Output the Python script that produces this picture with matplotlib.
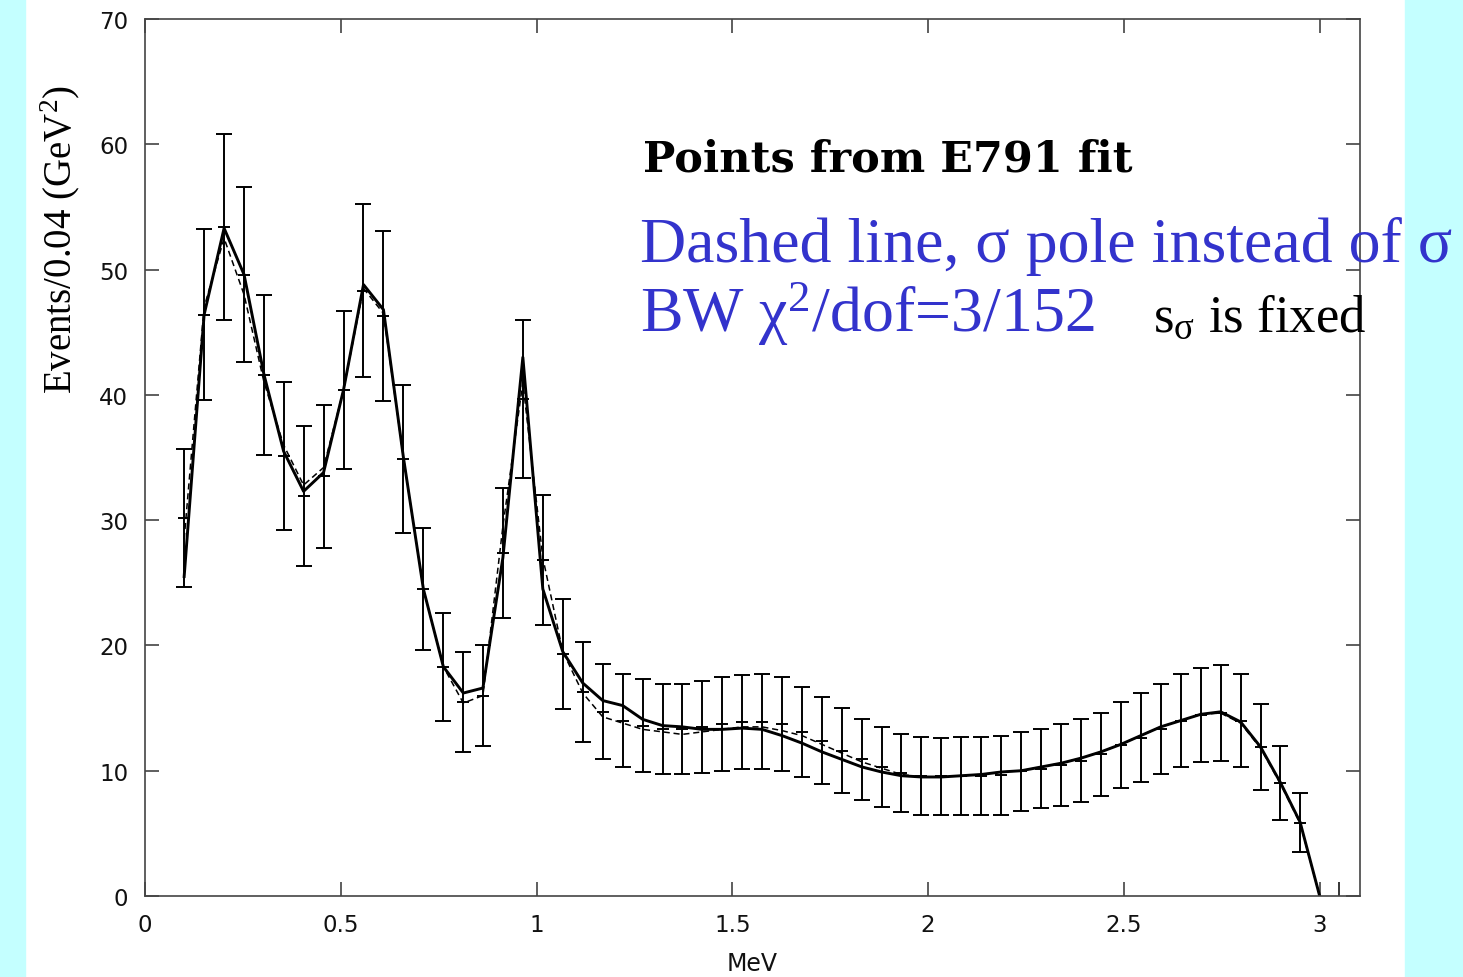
import matplotlib.pyplot as plt
from matplotlib.patches import Rectangle

plt.rcParams['mathtext.fontset'] = 'custom'
plt.rcParams['mathtext.rm'] = 'Liberation Serif'
plt.rcParams['mathtext.it'] = 'Liberation Serif:italic'

# bin centres (MeV axis as labelled)
x = [0.100, 0.151, 0.202, 0.253, 0.304, 0.354, 0.405, 0.456, 0.507, 0.558,
     0.609, 0.660, 0.711, 0.762, 0.813, 0.863, 0.914, 0.965, 1.016, 1.067,
     1.118, 1.169, 1.220, 1.271, 1.322, 1.372, 1.423, 1.474, 1.525, 1.576,
     1.627, 1.678, 1.729, 1.780, 1.831, 1.881, 1.932, 1.983, 2.034, 2.085,
     2.136, 2.187, 2.238, 2.289, 2.340, 2.390, 2.441, 2.492, 2.543, 2.594,
     2.645, 2.696, 2.747, 2.798, 2.849, 2.899, 2.950]

# points from E791 fit, with errors
pts = [30.2, 46.4, 53.4, 49.6, 41.6, 35.1, 31.9, 33.5, 40.4, 48.3,
       46.3, 34.9, 24.5, 18.3, 15.5, 16.0, 27.4, 39.7, 26.8, 19.3,
       16.3, 14.7, 14.0, 13.6, 13.3, 13.3, 13.5, 13.7, 13.9, 13.9,
       13.7, 13.1, 12.4, 11.6, 10.9, 10.3, 9.8, 9.6, 9.55, 9.6,
       9.6, 9.65, 9.95, 10.15, 10.45, 10.8, 11.3, 12.05, 12.65, 13.3,
       14.0, 14.45, 14.6, 14.0, 11.9, 9.05, 5.85]
err = [5.5, 6.8, 7.4, 7.0, 6.4, 5.9, 5.6, 5.7, 6.3, 6.9,
       6.8, 5.9, 4.9, 4.3, 4.0, 4.0, 5.2, 6.3, 5.2, 4.4,
       4.0, 3.8, 3.7, 3.7, 3.6, 3.6, 3.7, 3.75, 3.75, 3.8,
       3.75, 3.6, 3.5, 3.4, 3.25, 3.2, 3.1, 3.1, 3.05, 3.1,
       3.1, 3.15, 3.15, 3.15, 3.25, 3.3, 3.3, 3.45, 3.55, 3.6,
       3.7, 3.75, 3.8, 3.7, 3.4, 2.95, 2.35]

# curves (same bins, plus end point at 3.0)
x_line = x + [3.0]
solid = [25.5, 46.4, 53.3, 49.6, 41.6, 35.5, 32.3, 33.8, 40.4, 48.8,
         46.8, 35.0, 24.5, 18.3, 16.2, 16.6, 27.0, 43.0, 24.5, 19.5,
         17.0, 15.6, 15.2, 14.1, 13.6, 13.5, 13.3, 13.3, 13.4, 13.3,
         12.8, 12.2, 11.5, 10.9, 10.3, 9.9, 9.6, 9.5, 9.5, 9.6,
         9.7, 9.9, 10.0, 10.3, 10.6, 11.0, 11.5, 12.1, 12.8, 13.5,
         14.0, 14.5, 14.7, 13.9, 11.9, 9.1, 5.9, 0.0]
dashed = [28.5, 47.0, 52.5, 48.0, 41.0, 36.0, 32.8, 34.2, 40.4, 48.5,
          46.5, 35.0, 24.5, 18.3, 15.4, 16.0, 29.5, 41.0, 27.0, 19.5,
          16.2, 14.3, 13.8, 13.3, 13.1, 12.9, 13.1, 13.3, 13.5, 13.5,
          13.2, 12.8, 12.1, 11.4, 10.7, 10.2, 9.7, 9.5, 9.5, 9.6,
          9.7, 9.9, 10.0, 10.3, 10.6, 11.0, 11.5, 12.1, 12.8, 13.5,
          14.0, 14.5, 14.6, 13.8, 11.8, 9.0, 5.8, 0.0]

W, H = 1463, 978
fig = plt.figure(figsize=(W / 100, H / 100), dpi=100)
cyan = '#C4FFFF'
fig.patches.append(Rectangle((0, 0), 25 / W, 1, transform=fig.transFigure, color=cyan, zorder=0))
fig.patches.append(Rectangle((1405 / W, 0), 1 - 1405 / W, 1, transform=fig.transFigure, color=cyan, zorder=0))

ax = fig.add_axes([145 / W, 1 - 897 / H, (1360 - 145) / W, (897 - 20) / H])
ax.errorbar(x, pts, yerr=err, fmt='_', color='black', ms=9, mew=1.4,
            elinewidth=1.4, capsize=6, capthick=1.4)
ax.plot(x_line, solid, color='black', lw=2.1)
ax.plot(x_line, dashed, color='black', lw=1.1, dashes=(4, 2.5))

ax.set_xlim(0, 3.103)
ax.set_ylim(0, 70)
ax.set_xticks([0, 0.5, 1, 1.5, 2, 2.5, 3])
ax.set_xticklabels(['0', '0.5', '1', '1.5', '2', '2.5', '3'])
ax.set_xticks([3.05], minor=True)
ax.set_yticks(range(0, 71, 10))
ax.tick_params(which='major', direction='in', top=True, right=True, length=10,
               width=1.1, pad=12, labelsize=16.5, labelcolor='#111', color='#333')
ax.tick_params(which='minor', direction='in', bottom=True, top=False, length=10, width=1.1)
for s in ax.spines.values():
    s.set_color('#444')
    s.set_linewidth(1.2)
ax.set_xlabel('MeV', fontsize=17, color='#111', labelpad=11)

fig.text(60 / W, 1 - 240 / H, 'Events/0.04 (GeV$^{2}$)', rotation=90, ha='center', va='center',
         family='Liberation Serif', fontsize=28)

fig.text(643 / W, 1 - 172 / H, 'Points from E791 fit', family='DejaVu Serif', weight='bold',
         fontsize=31, va='baseline')
blue = '#3333CC'
fig.text(640 / W, 1 - 262 / H, 'Dashed line, σ pole instead of σ', family='Liberation Serif',
         fontsize=46, color=blue, va='baseline')
fig.text(640 / W, 1 - 332 / H, 'BW χ$^{2}$/dof=3/152', family='Liberation Serif',
         fontsize=46, color=blue, va='baseline')
fig.text(1153 / W, 1 - 332 / H, r's$_{\mathrm{\sigma}}$ is fixed', family='Liberation Serif',
         fontsize=38, color='black', va='baseline')

fig.savefig('out.png', dpi=100)
